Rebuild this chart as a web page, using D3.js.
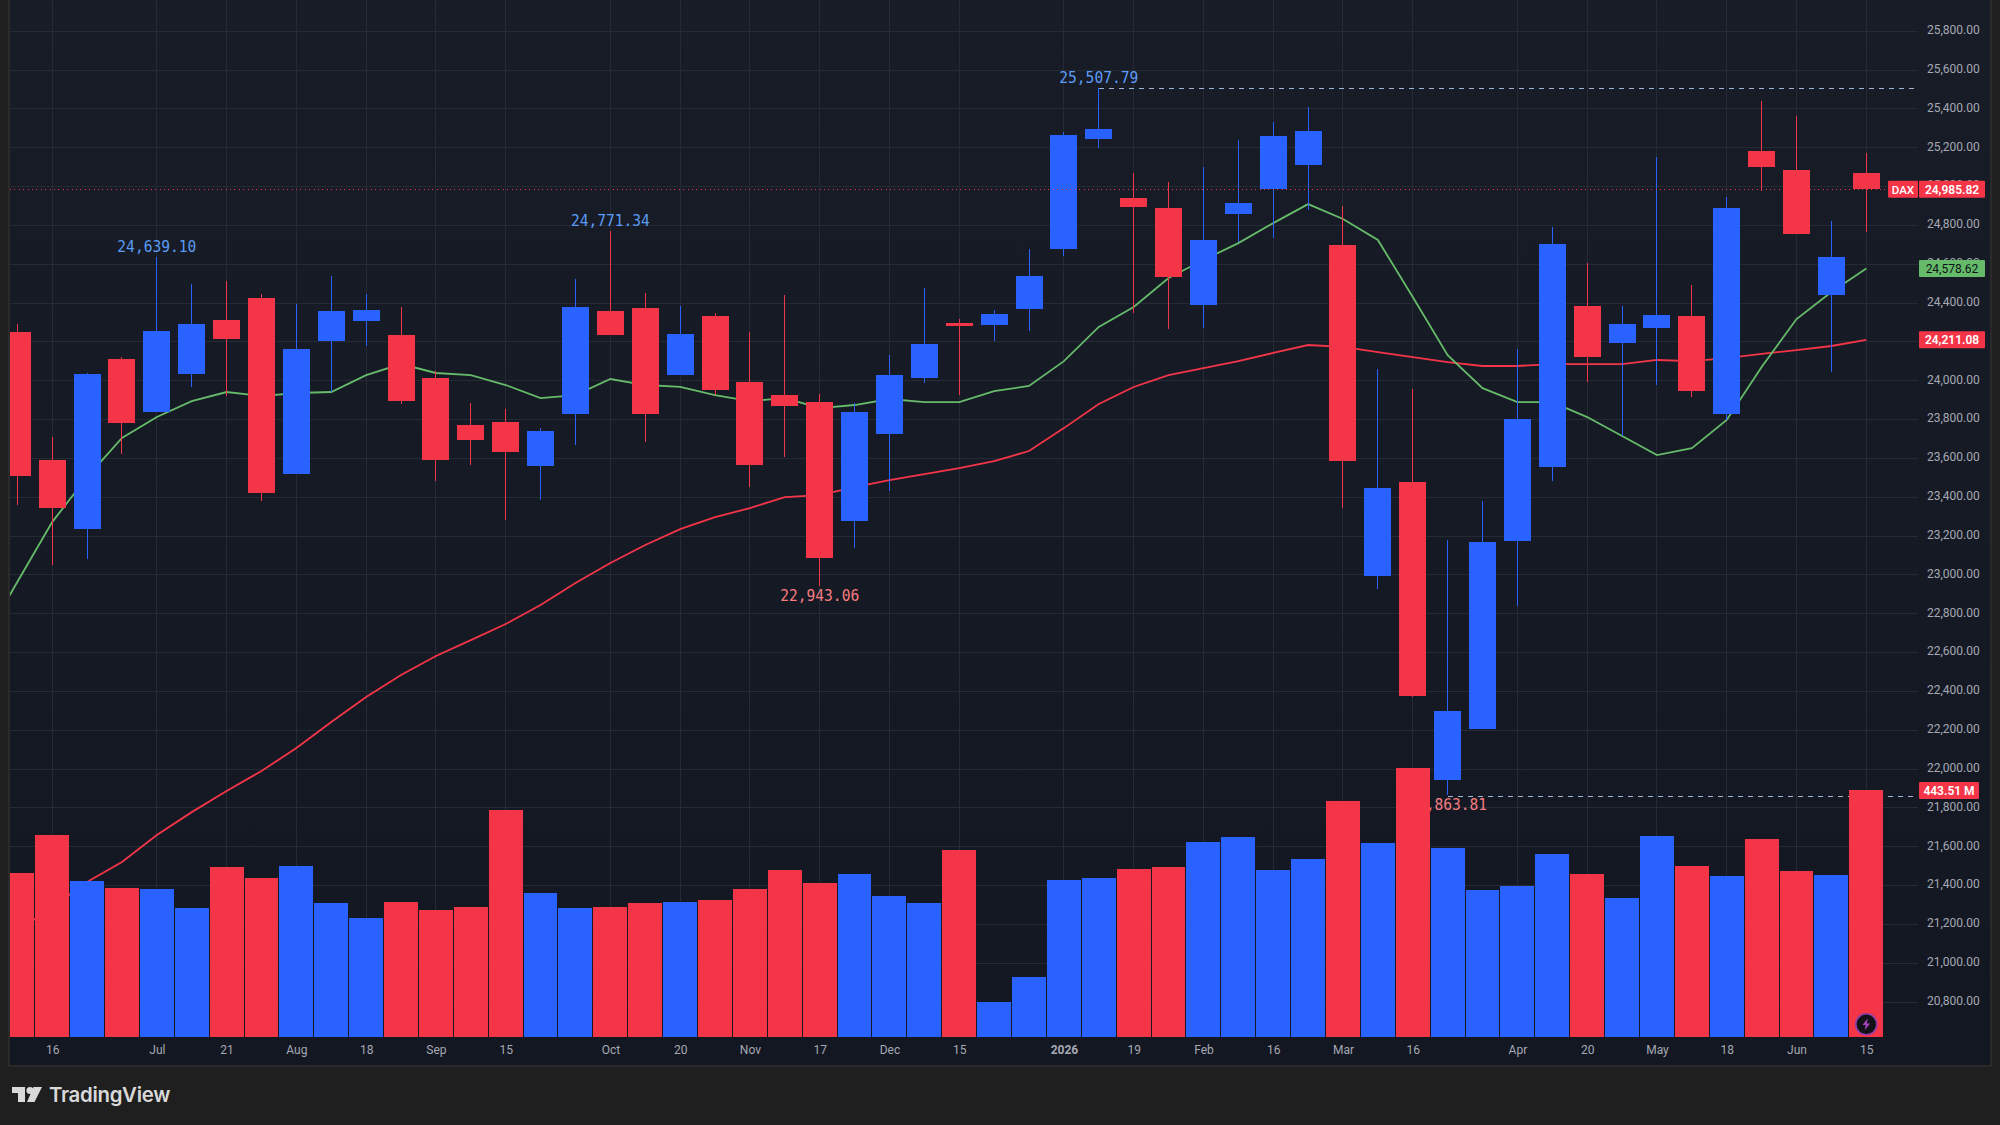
<!DOCTYPE html>
<html>
<head>
<meta charset="utf-8">
<title>DAX weekly</title>
<script src="https://cdn.jsdelivr.net/npm/d3@7/dist/d3.min.js"></script>
<style>
  html, body { margin: 0; padding: 0; background: #1f1f1f; }
  svg { display: block; }
  text { font-family: Roboto, sans-serif; }
</style>
</head>
<body>
<svg id="chart" width="2000" height="1125"></svg>
<script>
// Weekly DAX candles, oldest first
const open = [24251,23592,23236,24112,23839,24035,24313,24426,23519,24204,24307,24235,24014,23772,23787,23561,23828,24359,24374,24029,24333,23993,23926,23890,23277,23725,24014,24297,24287,24369,24678,25245,24941,24890,24390,24859,24987,25111,24699,22994,23478,21943,22206,23174,23555,24385,24194,24271,24333,23828,25183,25085,24441,25070];
const high = [24292,23710,24040,24122,24639.10,24498,24514,24447,24395,24539,24447,24380,24050,23885,23854,23756,24524,24771.34,24452,24385,24349,24251,24441,23931,23885,24132,24477,24318,24364,24678,25281,25507.79,25070,25024,25101,25240,25333,25410,24900,24060,23957,23180,23380,24163,24792,24606,24385,25152,24493,24946,25441,25364,24823,25173];
const low = [23360,23051,23082,23622,23839,23968,23921,23380,23519,23942,24179,23880,23483,23566,23282,23385,23669,24235,23684,24029,23926,23452,23607,22943.06,23138,23432,23988,23926,24204,24256,24642,25199,24349,24266,24271,24714,24735,24879,23344,22927,22371,21863.81,22206,22839,23483,23993,23715,23978,23916,23798,24977,24756,24045,24766];
const close = [23509,23344,24035,23782,24256,24292,24215,23422,24163,24359,24364,23895,23592,23695,23633,23741,24380,24235,23828,24241,23952,23566,23870,23087,23839,24029,24189,24282,24344,24539,25266,25297,24895,24534,24725,24915,25260,25286,23586,23447,22376,22299,23169,23803,24704,24122,24292,24338,23947,24890,25101,24756,24637,24985.82];

// Weekly volume in millions
const volume = [294.5,362.7,280.1,267.5,265.7,231.6,305.3,285.5,307.0,240.6,213.7,242.4,228.0,233.4,407.6,258.6,231.6,233.4,240.6,242.4,246.0,265.7,299.9,276.5,292.7,253.2,240.6,335.8,62.8,107.7,281.9,285.5,301.7,305.3,350.1,359.1,299.9,319.6,423.8,348.3,483.0,339.4,264.0,271.1,328.6,292.7,249.6,360.9,307.0,289.1,355.5,298.1,290.9,443.51];

// Fast and slow moving averages; the fast one carries the week before the first candle
const maFastPrior = 22654;
const maFast = [22963,23272,23504,23705,23813,23895,23942,23921,23937,23942,24029,24086,24040,24029,23978,23911,23926,24009,23978,23968,23926,23895,23911,23859,23875,23906,23890,23890,23947,23973,24101,24277,24380,24529,24622,24709,24812,24910,24833,24725,24431,24132,23962,23890,23890,23813,23715,23617,23653,23798,24071,24318,24457,24578.62];
const maSlow = [21165,21289,21418,21521,21660,21778,21887,21990,22108,22242,22371,22484,22582,22664,22747,22845,22958,23061,23154,23236,23298,23344,23401,23411,23452,23488,23519,23550,23586,23638,23756,23880,23968,24029,24065,24101,24143,24184,24174,24148,24122,24096,24076,24076,24086,24086,24086,24107,24101,24117,24138,24158,24179,24211.08];

// Time axis captions, one slot per week, blank where the axis has no tick
const weekLabels = ["","16","","","Jul","","21","","Aug","","18","","Sep","","15","","","Oct","","20","","Nov","","17","","Dec","","15","","","2026","","19","","Feb","","16","","Mar","","16","","","Apr","","20","","May","","18","","Jun","","15"];

// Price axis levels
const priceTicks = [20800,21000,21200,21400,21600,21800,22000,22200,22400,22600,22800,23000,23200,23400,23600,23800,24000,24200,24400,24600,24800,25000,25200,25400,25600,25800];

// Weeks whose extreme is printed on the chart
const markedHighs = [4,17,31];
const markedLows = [23,41];

const symbol = "DAX";
const BLUE = "#2962ff", RED = "#f43548", GREEN = "#66bb6a";

const svg = d3.select("#chart");
const fmt = d3.format(",.2f");
const n = close.length;

const x = d3.scaleLinear().domain([0, n - 1]).range([17.3, 1866.3]);
const y = d3.scaleLinear().domain([20800, 25800]).range([1002, 31.3]);
const yVol = d3.scaleLinear().domain([0, 443.51]).range([1037, 790]);
const bodyW = 27, volW = 34;

const defs = svg.append("defs");
const grad = defs.append("linearGradient").attr("id", "paneBg")
  .attr("x1", 0).attr("x2", 0).attr("y1", 0).attr("y2", 1);
grad.append("stop").attr("offset", 0).attr("stop-color", "#181c27");
grad.append("stop").attr("offset", 1).attr("stop-color", "#131722");
defs.append("clipPath").attr("id", "plotClip").append("rect")
  .attr("x", 10).attr("y", 0).attr("width", 1908).attr("height", 1037);

// Frame and pane
svg.append("rect").attr("x", 8).attr("y", -2).attr("width", 1984).attr("height", 1069).attr("fill", "#2a2a2a");
svg.append("rect").attr("x", 10).attr("y", 0).attr("width", 1980).attr("height", 1065).attr("fill", "url(#paneBg)");

const tickIdx = d3.range(n).filter(i => weekLabels[i] !== "");

// Grid
const grid = svg.append("g").attr("shape-rendering", "crispEdges").attr("stroke", "#262a35").attr("stroke-width", 1);
grid.selectAll(".h").data(priceTicks).join("line").attr("class", "h")
  .attr("x1", 10).attr("x2", 1918).attr("y1", d => y(d)).attr("y2", d => y(d));
grid.selectAll(".v").data(tickIdx).join("line").attr("class", "v")
  .attr("x1", d => x(d)).attr("x2", d => x(d)).attr("y1", 0).attr("y2", 1037);

// Moving averages sit under everything else in the plot
const lines = svg.append("g").attr("clip-path", "url(#plotClip)");
const line = d3.line().x(d => x(d[0])).y(d => y(d[1]));
const fastPts = [[-1, maFastPrior]].concat(maFast.map((v, i) => [i, v]));
const slowPts = maSlow.map((v, i) => [i, v]);
lines.append("path").attr("d", line(slowPts)).attr("fill", "none").attr("stroke", RED).attr("stroke-width", 1.8);
lines.append("path").attr("d", line(fastPts)).attr("fill", "none").attr("stroke", GREEN).attr("stroke-width", 1.8);

// Dashed guides from the top and bottom extremes to the price axis
const maxI = d3.maxIndex(high), minI = d3.minIndex(low);
const guides = svg.append("g").attr("stroke", "#9fb6d6").attr("stroke-dasharray", "5 5").attr("shape-rendering", "crispEdges");
guides.append("line").attr("x1", x(maxI)).attr("x2", 1918).attr("y1", y(high[maxI])).attr("y2", y(high[maxI]));
guides.append("line").attr("x1", x(minI)).attr("x2", 1918).attr("y1", y(low[minI]) + 1).attr("y2", y(low[minI]) + 1);

// Printed extremes, in a condensed mono face; columns drawn later may cover them
const noteStyle = "font-family:'DejaVu Sans Mono',monospace;font-size:16px";
const notes = svg.append("g").attr("text-anchor", "middle");
notes.selectAll(".hi").data(markedHighs).join("text").attr("class", "hi")
  .attr("x", d => x(d)).attr("y", d => y(high[d]) - 5).attr("fill", "#5b9cf6").attr("style", noteStyle)
  .attr("textLength", 79).attr("lengthAdjust", "spacingAndGlyphs")
  .text(d => fmt(high[d]));
notes.selectAll(".lo").data(markedLows).join("text").attr("class", "lo")
  .attr("x", d => x(d)).attr("y", d => y(low[d]) + 15).attr("fill", "#f77c80").attr("style", noteStyle)
  .attr("textLength", 79).attr("lengthAdjust", "spacingAndGlyphs")
  .text(d => fmt(low[d]));

const colour = i => close[i] >= open[i] ? BLUE : RED;
const plot = svg.append("g").attr("clip-path", "url(#plotClip)");

// Volume columns, snapped to whole pixels so a one pixel gap stays between neighbours
const volLeft = i => Math.round(x(i) - volW / 2);
plot.append("g").attr("shape-rendering", "crispEdges").selectAll("rect").data(volume).join("rect")
  .attr("x", (d, i) => volLeft(i)).attr("width", (d, i) => volLeft(i + 1) - volLeft(i) - 1)
  .attr("y", d => yVol(d)).attr("height", d => yVol(0) - yVol(d))
  .attr("fill", (d, i) => colour(i));

// Candles
const candles = plot.append("g").attr("shape-rendering", "crispEdges")
  .selectAll("g").data(d3.range(n)).join("g");
candles.append("line")
  .attr("x1", d => x(d)).attr("x2", d => x(d))
  .attr("y1", d => y(high[d])).attr("y2", d => y(low[d]))
  .attr("stroke", colour).attr("stroke-width", 1);
candles.append("rect")
  .attr("x", d => x(d) - bodyW / 2).attr("width", bodyW)
  .attr("y", d => y(Math.max(open[d], close[d])))
  .attr("height", d => Math.max(1, Math.abs(y(open[d]) - y(close[d]))))
  .attr("fill", colour);

// Last price line
const last = close[n - 1];
svg.append("line").attr("x1", 10).attr("x2", 1888).attr("y1", y(last)).attr("y2", y(last))
  .attr("stroke", RED).attr("stroke-width", 1).attr("stroke-dasharray", "1 3.4").attr("shape-rendering", "crispEdges");

// Price axis
const axisR = d3.axisRight(y).tickValues(priceTicks).tickFormat(fmt).tickSize(0).tickPadding(0);
const gR = svg.append("g").attr("transform", "translate(1927,-1.5)").call(axisR);
gR.select(".domain").remove();
gR.selectAll("text").attr("fill", "#a6a9b3").attr("style", "font-family:Roboto,sans-serif;font-size:12px");

// Time axis
const axisB = d3.axisBottom(x).tickValues(tickIdx).tickFormat(i => weekLabels[i]).tickSize(0).tickPadding(0);
const gB = svg.append("g").attr("transform", "translate(0,1045.5)").call(axisB);
gB.select(".domain").remove();
gB.selectAll("text").attr("fill", "#a6a9b3")
  .attr("style", i => "font-family:Roboto,sans-serif;font-size:12px;font-weight:" + (weekLabels[i] === "2026" ? 700 : 400));

// Coloured value tags on the price axis
function tag(label, cy, bg, fg, right, bold) {
  svg.append("rect").attr("x", 1919).attr("y", cy - 8.5).attr("width", right - 1919).attr("height", 17).attr("rx", 1).attr("fill", bg);
  svg.append("text").attr("x", (1919 + right) / 2).attr("y", cy + 4.2).attr("text-anchor", "middle")
    .attr("fill", fg).attr("style", "font-family:Roboto,sans-serif;font-size:12px;font-weight:" + (bold ? 600 : 400)).text(label);
}
tag(fmt(maFast[n - 1]), y(maFast[n - 1]), GREEN, "#0d1117", 1985, false);
tag(fmt(maSlow[n - 1]), y(maSlow[n - 1]), RED, "#ffffff", 1985, true);
tag(fmt(last), y(last), RED, "#ffffff", 1985, true);
tag(d3.format(".2f")(volume[n - 1]) + " M", yVol(volume[n - 1]) + 0.5, RED, "#ffffff", 1979, true);

// Symbol tag
svg.append("rect").attr("x", 1888).attr("y", y(last) - 8.5).attr("width", 30).attr("height", 17).attr("rx", 1).attr("fill", RED);
svg.append("text").attr("x", 1903).attr("y", y(last) + 4.2).attr("text-anchor", "middle").attr("fill", "#fff")
  .attr("style", "font-family:Roboto,sans-serif;font-size:11.5px;font-weight:500").text(symbol);

// Lightning badge on the last column
const badge = svg.append("g").attr("transform", "translate(1866.3,1024.3)");
badge.append("circle").attr("r", 10.5).attr("fill", "#131118").attr("stroke", "#8e3fa6").attr("stroke-width", 1.6);
badge.append("path").attr("d", "M1.6,-6 L-3.8,0.8 L-0.4,0.8 L-1.6,6 L3.8,-0.8 L0.4,-0.8 Z").attr("fill", "#a843c4");

// Brand mark
const logo = svg.append("g").attr("fill", "#d9d9d9");
logo.append("path").attr("d", "M12,1087 H25 V1102 H18 V1093 H12 Z");
logo.append("circle").attr("cx", 30).attr("cy", 1090.5).attr("r", 3.6);
logo.append("path").attr("d", "M33.5,1087 H42 L34.5,1102 H27 Z");
svg.append("text").attr("x", 49).attr("y", 1102).attr("fill", "#d9d9d9")
  .attr("style", "font-family:Inter,sans-serif;font-size:20.4px;font-weight:600;letter-spacing:-0.3px").text("TradingView");
</script>
</body>
</html>
